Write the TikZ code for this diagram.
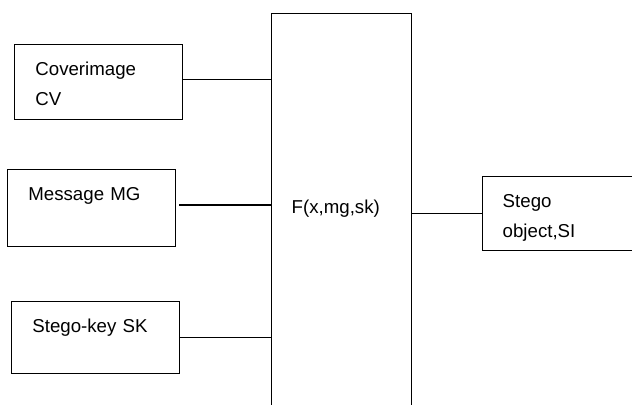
\documentclass[tikz,border=0pt]{standalone}
\usepackage{fontspec}
\setmainfont{Liberation Sans}
\usetikzlibrary{positioning}

\begin{document}
\begin{tikzpicture}[
  x=0.75pt, y=-0.75pt,
  font=\fontsize{14}{22.5}\selectfont,
  inbox/.style={draw, line width=1.1pt, anchor=north west, align=left,
    inner xsep=15.5pt, inner ysep=0pt, text height=23.25pt, text width=95pt},
  link/.style={line width=1.1pt}
]
  \useasboundingbox (0,0) rectangle (632,404);
  \clip (0,0) rectangle (632,404);

  \node[inbox, text depth=33pt] (cover) at (14,44) {Coverimage\\CV};
  \node[inbox, text depth=34.5pt] (msg) at (7,169) {Message MG};
  \node[inbox, text depth=30.75pt] (key) at (11,301) {Stego-key SK};
  \node[inbox, text height=150pt, text depth=160pt, text width=75pt,
    inner xsep=15pt] (f) at (271,13) {F(x,mg,sk)};
  \node[inbox, text depth=32.25pt, text width=140pt, inner xsep=15pt]
    (out) at (482,176) {Stego\\object,SI};

  \draw[link] ([yshift=1.9pt]cover.east) -- ([yshift=1.9pt]cover.east -| f.west);
  \draw[link] ([shift={(2.25pt,2.6pt)}]msg.east) -- ([yshift=2.6pt]msg.east -| f.west);
  \draw[link] (key.east) -- (key.east -| f.west);
  \draw[link] (out.west -| f.east) -- (out.west);
\end{tikzpicture}
\end{document}
